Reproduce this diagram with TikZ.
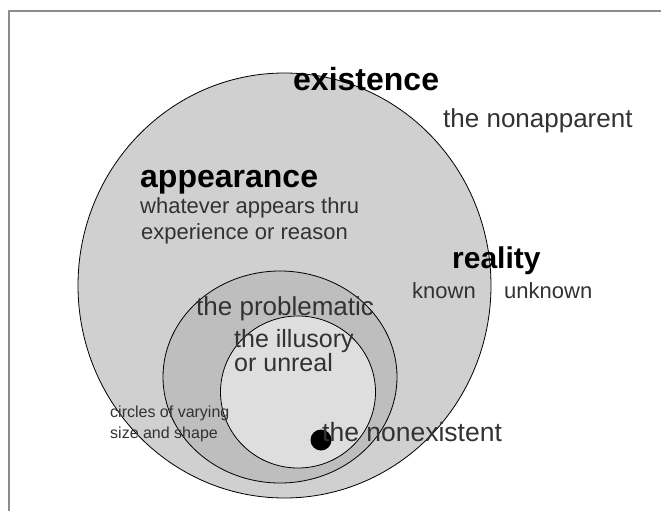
\documentclass[tikz,border=0pt]{standalone}
\usepackage{fontspec}
\setmainfont{Liberation Sans}
\definecolor{framegray}{RGB}{140,140,140}
\definecolor{bigfill}{RGB}{208,208,208}
\definecolor{ringfill}{RGB}{190,190,190}
\definecolor{innerfill}{RGB}{222,222,222}
\definecolor{textgray}{RGB}{50,50,50}
\begin{document}
\begin{tikzpicture}[x=1pt,y=-1pt,
		heading/.style={font=\bfseries\fontsize{32}{32}\selectfont, text=black, inner sep=0pt, anchor=base west},
		note/.style={font=\fontsize{22}{26}\selectfont, text=textgray, inner sep=0pt, anchor=base west}]
	\useasboundingbox (0,0) rectangle (661,511);
	
	% Frame (only top and left edges show)
	\draw[framegray, line width=2.5pt] (9,511) -- (9,11) -- (661,11);
	
	% Circles of existence, the problematic, the illusory
	\draw[fill=bigfill, line width=0.8pt] (284.5,285.5) ellipse [x radius=206.5pt, y radius=212.5pt];
	\draw[fill=ringfill, line width=0.8pt] (280,377) ellipse [x radius=117pt, y radius=106pt];
	\draw[fill=innerfill, line width=0.8pt] (298,392) ellipse [x radius=77.5pt, y radius=76pt];
	
	% Headings
	\node[heading] (existence) at (293,90) {existence};
	\node[heading] (appearance) at (140,187) {appearance};
	\node[heading, font=\bfseries\fontsize{30}{30}\selectfont] (reality) at (452,268) {reality};
	
	% Texts
	\node[note, font=\fontsize{26}{26}\selectfont] (nonapparent) at (443,127) {the nonapparent};
	\node[note] (whatever) at (140,213) {whatever appears thru};
	\node[note] (experience) at (141,239) {experience or reason};
	\node[note] (known) at (412,298) {known};
	\node[note] (unknown) at (504,298) {unknown};
	\node[note, font=\fontsize{26}{26}\selectfont] (problematic) at (196,315) {the problematic};
	\node[note, font=\fontsize{25}{25}\selectfont] (illusory) at (234,347) {the illusory};
	\node[note, font=\fontsize{25}{25}\selectfont] (unreal) at (234,371) {or unreal};
	\node[note, font=\fontsize{16}{16}\selectfont] (circles) at (110,417) {circles of varying};
	\node[note, font=\fontsize{16}{16}\selectfont] (sizeshape) at (110,438) {size and shape};
	
	% The nonexistent
	\node[circle, fill=black, minimum size=21pt, inner sep=0pt] (dot) at (321,440) {};
	\node[note, font=\fontsize{26.5}{26.5}\selectfont] (nonexistent) at (322,441) {the nonexistent};
\end{tikzpicture}
\end{document}
